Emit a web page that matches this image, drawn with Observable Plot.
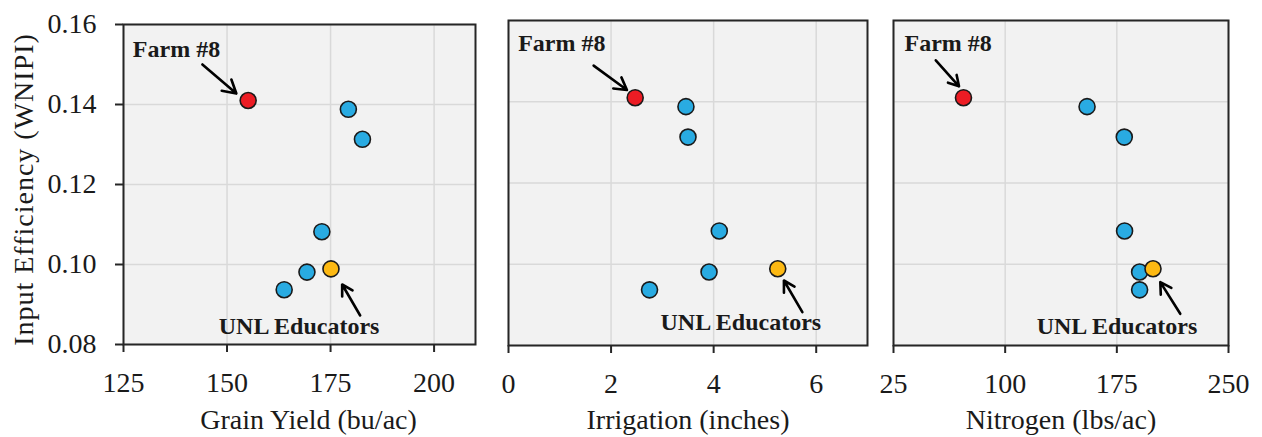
<!DOCTYPE html>
<html><head><meta charset="utf-8">
<script src="https://cdn.jsdelivr.net/npm/d3@7"></script>
<script src="https://cdn.jsdelivr.net/npm/@observablehq/plot@0.6"></script>
<style>
html,body{margin:0;padding:0;background:#fff;}
#chart{position:relative;width:1262px;height:437px;overflow:hidden;}
.panel{position:absolute;top:0;}
</style></head><body><div id="chart"></div>
<script>
// ---- data ----
const group = ["farm8", "other", "other", "other", "other", "other", "unl"];
const efficiency = [0.141, 0.1388, 0.1313, 0.1082, 0.0981, 0.0937, 0.0989];
const grainYield = [155.1, 179.3, 182.7, 172.9, 169.3, 163.8, 175.1];
const irrigation = [2.47, 3.46, 3.50, 4.11, 3.91, 2.75, 5.25];
const nitrogen = [72, 155, 180, 180.2, 190.3, 190.3, 199.3];

const yTicks = [0.08, 0.10, 0.12, 0.14, 0.16];
const gyTicks = [125, 150, 175, 200];
const irTicks = [0, 2, 4, 6];
const niTicks = [25, 100, 175, 250];

const yLabel = "Input Efficiency (WNIPI)";
const xLabels = ["Grain Yield (bu/ac)", "Irrigation (inches)", "Nitrogen (lbs/ac)"];
const annText = ["Farm #8", "UNL Educators"];

// annotation anchors (data units) per panel: label centre, arrow tail, arrow tip
const gyLabelX = [137.8, 167.4], gyLabelY = [0.1538, 0.0846];
const gyArrowX1 = [144.05, 182.15], gyArrowY1 = [0.1500, 0.08725];
const gyArrowX2 = [152.25, 177.8], gyArrowY2 = [0.14275, 0.0950];

const irLabelX = [1.04, 4.53], irLabelY = [0.1545, 0.0856];
const irArrowX1 = [1.66, 5.73], irArrowY1 = [0.1489, 0.0882];
const irArrowX2 = [2.31, 5.37], irArrowY2 = [0.1429, 0.0960];

const niLabelX = [61.7, 175.1], niLabelY = [0.1545, 0.0848];
const niArrowX1 = [53.4, 217.6], niArrowY1 = [0.1502, 0.0878];
const niArrowX2 = [69, 204.2], niArrowY2 = [0.1438, 0.0956];

// ---- styling ----
const COLORS = {other: "#29abe2", farm8: "#ec1c24", unl: "#fdb913"};
const FONT = "'Liberation Serif', 'Times New Roman', Times, serif";

function panel(cfg) {
  const pts = cfg.xs.map((x, i) => ({x, y: efficiency[i], g: group[i]}));
  const ann = annText.map((t, i) => ({
    t, lx: cfg.lx[i], ly: cfg.ly[i],
    x1: cfg.ax1[i], y1: cfg.ay1[i], x2: cfg.ax2[i], y2: cfg.ay2[i]
  }));
  const dots = g => Plot.dot(pts.filter(d => d.g === g), {
    x: "x", y: "y", r: 8, fill: COLORS[g], stroke: "#1a1a1a", strokeWidth: 1.6
  });
  const svg = Plot.plot({
    width: cfg.width, height: 437,
    marginLeft: cfg.mL, marginRight: cfg.mR, marginTop: cfg.mT, marginBottom: 437 - cfg.bottom,
    style: {fontFamily: FONT, fontSize: "28px", color: "#1a1a1a", background: "transparent", overflow: "visible"},
    x: {domain: cfg.domain, axis: null},
    y: {domain: [0.08, 0.16], axis: null},
    marks: [
      Plot.frame({fill: "#f2f2f2"}),
      Plot.gridX(cfg.ticks, {stroke: "#d9d9d9", strokeOpacity: 1, strokeWidth: 1.5}),
      Plot.gridY(yTicks, {stroke: "#d9d9d9", strokeOpacity: 1, strokeWidth: 1.5}),
      Plot.frame({stroke: "#262626", strokeWidth: 2}),
      Plot.axisX(cfg.ticks, {tickSize: 8, tickPadding: 20, label: null, tickFormat: d => String(d), fontSize: 28, stroke: "#262626", strokeWidth: 2}),
      cfg.showY ? Plot.axisY(yTicks, {tickSize: 8, tickPadding: 19, label: null, tickFormat: d3.format(".2f"), fontSize: 28, stroke: "#262626", strokeWidth: 2}) : null,
      cfg.showY ? Plot.text([yLabel], {frameAnchor: "left", textAnchor: "middle", rotate: -90, dx: -99, dy: 5, fontSize: 28, text: d => d, lineAnchor: "middle"}) : null,
      dots("other"), dots("unl"), dots("farm8"),
      Plot.arrow(ann, {x1: "x1", y1: "y1", x2: "x2", y2: "y2", stroke: "#000", strokeWidth: 2.6, headLength: 12}),
      Plot.text(ann, {x: "lx", y: "ly", text: "t", fontWeight: "bold", fontSize: 24, fill: "#1a1a1a"}),
      Plot.text([cfg.xLabel], {frameAnchor: "bottom", dy: 428 - cfg.bottom, dx: cfg.xdx, lineAnchor: "bottom", fontSize: 28, text: d => d})
    ]
  });
  svg.querySelectorAll("text").forEach(t => {
    if (t.textContent === yLabel) t.setAttribute("letter-spacing", "1");
  });
  const div = document.createElement("div");
  div.className = "panel";
  div.style.left = cfg.left + "px";
  div.appendChild(svg);
  document.getElementById("chart").appendChild(div);
}

panel({left: 0, width: 490, mL: 123, mR: 15, mT: 24, bottom: 344, domain: [125, 210], ticks: gyTicks,
  xs: grainYield, showY: true, xLabel: xLabels[0], xdx: 9,
  lx: gyLabelX, ly: gyLabelY, ax1: gyArrowX1, ay1: gyArrowY1, ax2: gyArrowX2, ay2: gyArrowY2});
panel({left: 490, width: 380, mL: 18, mR: 3, mT: 20, bottom: 345, domain: [0, 7], ticks: irTicks,
  xs: irrigation, showY: false, xLabel: xLabels[1], xdx: 0,
  lx: irLabelX, ly: irLabelY, ax1: irArrowX1, ay1: irArrowY1, ax2: irArrowX2, ay2: irArrowY2});
panel({left: 870, width: 392, mL: 23, mR: 34, mT: 20, bottom: 345, domain: [25, 250], ticks: niTicks,
  xs: nitrogen, showY: false, xLabel: xLabels[2], xdx: 0,
  lx: niLabelX, ly: niLabelY, ax1: niArrowX1, ay1: niArrowY1, ax2: niArrowX2, ay2: niArrowY2});
</script></body></html>
